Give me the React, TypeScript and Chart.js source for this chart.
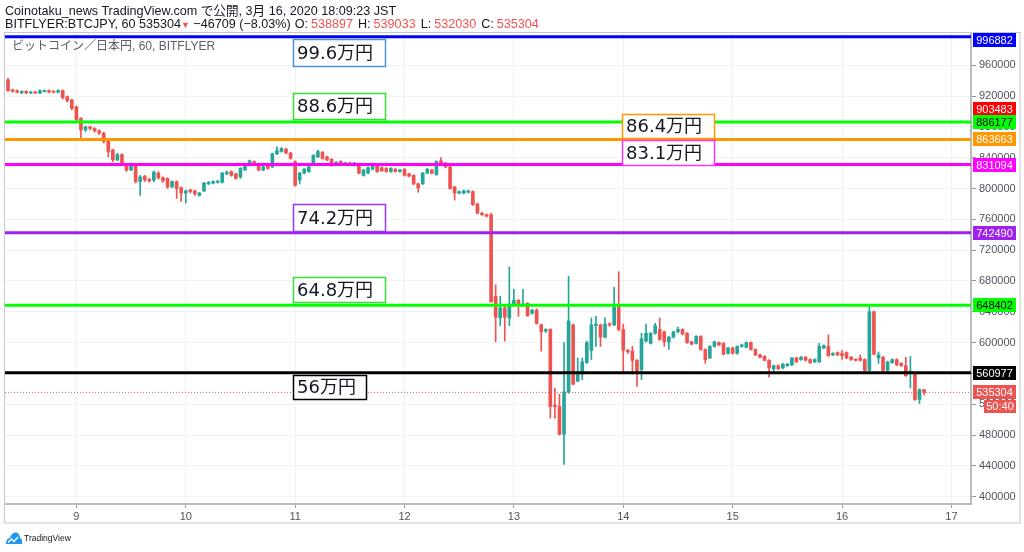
import React, { useEffect, useRef } from "react";
import { Chart, registerables } from "chart.js";

Chart.register(...registerables);

// first candle = Mar 8 09:00 JST, expressed in hours from Mar 9 00:00
const FIRST_HOUR = -15;
const PRICE_UNIT = 1000;

const OPEN_K = [
  941, 928, 927, 924, 926, 924, 925, 924, 926, 927,
  926, 925, 927, 919, 915, 906, 891, 876, 880, 878,
  875, 872, 861, 850, 837, 844, 830, 824, 830, 809,
  816, 812, 811, 820, 814, 813, 802, 809, 801, 794,
  798, 797, 791, 797, 806, 807, 808, 808, 819, 822,
  819, 815, 824, 830, 835, 830, 824, 829, 828, 845,
  848, 851, 846, 835, 811, 820, 822, 833, 841, 847,
  841, 838, 832, 835, 832, 833, 830, 829, 817, 820,
  825, 829, 827, 826, 822, 825, 822, 825, 819, 817,
  806, 806, 820, 824, 818, 836, 833, 828, 802, 794,
  794, 795, 796, 780, 768, 766, 766, 660, 632, 645,
  632, 649, 655, 648, 651, 638, 642, 623, 615, 617,
  519, 517, 481, 536, 623, 550, 559, 574, 590, 622,
  623, 607, 624, 623, 646, 617, 590, 589, 577, 565,
  602, 599, 612, 617, 614, 601, 607, 614, 617, 612,
  601, 599, 608, 591, 580, 595, 600, 599, 586, 593,
  586, 595, 594, 600, 591, 584, 582, 577, 566, 570,
  567, 570, 571, 580, 578, 581, 578, 575, 575, 593,
  595, 584, 587, 586, 587, 581, 578, 580, 578, 564,
  640, 580, 581, 564, 574, 578, 573, 570, 560, 560,
  526, 538.897,
];

const HIGH_K = [
  943, 929, 928, 927, 927, 926, 926, 928, 928, 928,
  927, 928, 928, 920, 916, 907, 892, 881, 881, 879,
  876, 873, 862, 851, 846, 845, 831, 833, 832, 817,
  817, 813, 823, 822, 815, 814, 810, 810, 802, 798,
  799, 798, 795, 808, 809, 810, 811, 821, 823, 823,
  820, 827, 831, 837, 836, 831, 829, 830, 846, 854,
  853, 852, 847, 836, 821, 826, 829, 844, 850, 848,
  842, 839, 835, 836, 834, 834, 834, 830, 825, 828,
  831, 830, 828, 827, 827, 826, 825, 826, 820, 818,
  807, 821, 826, 825, 836, 840, 834, 829, 803, 797,
  798, 798, 797, 781, 769, 767, 768, 675, 660, 648,
  698, 669, 656, 669, 652, 643, 644, 624, 618, 618,
  541, 533, 600, 686, 624, 580, 580, 602, 632, 634,
  624, 632, 626, 672, 692, 624, 591, 595, 578, 612,
  624, 613, 625, 632, 615, 608, 615, 620, 618, 613,
  602, 609, 609, 592, 596, 602, 601, 600, 594, 594,
  596, 598, 601, 601, 592, 585, 583, 578, 571, 571,
  573, 573, 581, 581, 582, 582, 579, 579, 599, 597,
  610, 587, 588, 590, 588, 582, 579, 584, 579, 647,
  641, 588, 582, 576, 579, 579, 574, 581, 582, 561,
  540, 539.033,
];

const LOW_K = [
  926, 925, 924, 923, 923, 923, 923, 923, 925, 924,
  924, 924, 916, 912, 902, 887, 865, 874, 876, 873,
  870, 859, 841, 835, 836, 830, 822, 823, 807, 791,
  809, 808, 809, 812, 808, 800, 801, 787, 783, 781,
  794, 791, 790, 796, 805, 806, 807, 807, 818, 816,
  812, 813, 823, 829, 830, 823, 823, 825, 827, 844,
  847, 845, 838, 803, 806, 819, 821, 832, 840, 838,
  836, 829, 831, 831, 831, 830, 829, 819, 816, 819,
  824, 821, 822, 821, 821, 821, 821, 816, 815, 805,
  795, 805, 819, 819, 817, 832, 827, 799, 785, 793,
  793, 794, 778, 767, 765, 763, 652, 601, 622, 602,
  622, 648, 634, 647, 634, 637, 624, 589, 613, 502,
  502, 480, 442, 534, 545, 549, 552, 573, 578, 595,
  595, 606, 621, 622, 615, 563, 586, 559, 543, 552,
  601, 598, 611, 603, 595, 591, 606, 613, 610, 599,
  597, 598, 590, 573, 579, 594, 596, 584, 585, 585,
  585, 594, 593, 590, 583, 580, 576, 555, 562, 565,
  566, 569, 570, 574, 577, 576, 573, 574, 574, 592,
  582, 583, 583, 578, 579, 577, 576, 576, 563, 563,
  584, 573, 563, 563, 573, 570, 569, 556, 541, 525,
  521, 532.03,
];

const CLOSE_K = [
  927, 926, 925, 926, 924, 925, 924, 927, 927, 925,
  925, 927, 918, 914, 904, 889, 876, 880, 878, 875,
  872, 861, 848, 837, 844, 831, 824, 830, 809, 815,
  811, 810, 821, 814, 810, 802, 809, 800, 794, 797,
  796, 793, 794, 807, 808, 809, 809, 820, 821, 817,
  813, 826, 830, 836, 831, 824, 828, 826, 845, 849,
  852, 846, 839, 804, 820, 825, 828, 843, 848, 839,
  837, 830, 834, 832, 833, 831, 833, 820, 824, 827,
  830, 822, 823, 822, 826, 822, 824, 817, 816, 806,
  801, 820, 825, 820, 835, 833, 828, 800, 794, 796,
  797, 797, 779, 768, 766, 764, 653, 633, 645, 633,
  650, 655, 648, 650, 635, 642, 625, 614, 617, 517,
  517, 481, 536, 628, 546, 561, 575, 600, 623, 624,
  607, 624, 623, 646, 617, 590, 588, 577, 561, 605,
  612, 612, 622, 604, 601, 607, 614, 617, 611, 600,
  598, 608, 591, 578, 595, 601, 597, 585, 593, 586,
  595, 597, 600, 591, 584, 581, 577, 567, 570, 566,
  572, 572, 580, 575, 581, 577, 574, 578, 595, 596,
  583, 586, 584, 583, 580, 578, 577, 577, 564, 640,
  585, 584, 564, 575, 578, 571, 570, 557, 563, 526,
  539, 535.304,
];

const DAY_TICKS = [0, 24, 48, 72, 96, 120, 144, 168, 192];
const DAY_LABELS = ["9", "10", "11", "12", "13", "14", "15", "16", "17"];
const PRICE_TICKS = [
  400000, 440000, 480000, 520000, 560000, 600000, 640000, 680000,
  720000, 760000, 800000, 840000, 880000, 920000, 960000,
];

const LEVEL_VALUES = [996882, 886177, 863663, 831094, 742490, 648402, 560977];
const CURRENT_PRICE = 535304;
const TAG_VALUES = [996882, 903483, 886177, 863663, 831094, 742490, 648402, 560977, 535304];
const COUNTDOWN_TEXT = "50:40";
const NOTE_TEXTS = ["99.6万円", "88.6万円", "86.4万円", "83.1万円", "74.2万円", "64.8万円", "56万円"];
const OHLC_LABELS = ["O:", "H:", "L:", "C:"];
const OHLC_VALUES = ["538897", "539033", "532030", "535304"];

// styling / layout (not data)
const UP = "#26a69a";
const DOWN = "#ef5350";
const LEVEL_COLORS = ["#0000ff", "#00ff00", "#ff9800", "#ff00ff", "#a020f0", "#00ff00", "#000000"];
const TAG_BG = ["#0000ff", "#ff0000", "#00ff00", "#ff9800", "#ff00ff", "#a020f0", "#00ff00", "#000000", "#ef5350"];
const TAG_FG = ["#fff", "#fff", "#000", "#fff", "#fff", "#fff", "#000", "#fff", "#fff"];
const NOTE_LAYOUT = [
  { h0: 47.6, h1: 67.8, top: 993400, bottom: 959000, color: "#4a90d9" },
  { h0: 47.6, h1: 67.8, top: 924100, bottom: 890400, color: "#33e033" },
  { h0: 119.7, h1: 139.8, top: 896900, bottom: 865100, color: "#ff9800" },
  { h0: 119.7, h1: 139.8, top: 863500, bottom: 831000, color: "#ff33ff" },
  { h0: 47.6, h1: 67.8, top: 780300, bottom: 745200, color: "#9933ff" },
  { h0: 47.6, h1: 67.8, top: 685500, bottom: 653000, color: "#33e033" },
  { h0: 47.6, h1: 63.5, top: 558100, bottom: 526900, color: "#000000" },
];
const X_MIN = -15.66;
const X_MAX = 196.3;
const Y_MIN = 390500;
const Y_MAX = 1001800;
const AXIS_FONT = '"Liberation Sans", Arial, sans-serif';
const HEADER_FONT = '12.6px "Liberation Sans", Arial, "Noto Sans CJK JP", sans-serif';

const overlayPlugin = {
  id: "overlay",
  afterDatasetsDraw(chart: any) {
    const { ctx } = chart;
    const xs = chart.scales.x;
    const ys = chart.scales.y;
    ctx.save();
    NOTE_LAYOUT.forEach((b, i) => {
      const x0 = Math.round(xs.getPixelForValue(b.h0)) + 0.5;
      const x1 = Math.round(xs.getPixelForValue(b.h1)) + 0.5;
      const y0 = Math.round(ys.getPixelForValue(b.top)) + 0.5;
      const y1 = Math.round(ys.getPixelForValue(b.bottom)) + 0.5;
      ctx.fillStyle = "#ffffff";
      ctx.fillRect(x0, y0, x1 - x0, y1 - y0);
      ctx.strokeStyle = b.color;
      ctx.lineWidth = 1.5;
      ctx.strokeRect(x0, y0, x1 - x0, y1 - y0);
      ctx.fillStyle = "#131722";
      ctx.font = '18px "DejaVu Sans", "Noto Sans CJK JP", sans-serif';
      ctx.textAlign = "left";
      ctx.textBaseline = "middle";
      ctx.fillText(NOTE_TEXTS[i], x0 + 3.5, (y0 + y1) / 2 + 1);
    });
    ctx.restore();
  },
  afterDraw(chart: any) {
    const { ctx, chartArea } = chart;
    const ys = chart.scales.y;
    ctx.save();
    // outer frame
    ctx.strokeStyle = "#c4c7cd";
    ctx.lineWidth = 1;
    ctx.strokeRect(chartArea.left - 0.5, chartArea.top - 0.5, 1020 - chartArea.left + 0.5, 523 - chartArea.top + 0.5);
    // price tags on right axis
    ctx.font = "11px " + AXIS_FONT;
    ctx.textAlign = "center";
    ctx.textBaseline = "middle";
    const tx0 = chartArea.right + 2;
    const tx1 = 1016;
    TAG_VALUES.forEach((v, i) => {
      const yc = ys.getPixelForValue(v);
      let top = Math.round(yc - 7);
      if (top < chartArea.top) top = Math.round(chartArea.top);
      ctx.fillStyle = TAG_BG[i];
      ctx.fillRect(tx0, top, tx1 - tx0, 14);
      ctx.fillStyle = TAG_FG[i];
      ctx.fillText(String(v), (tx0 + tx1) / 2, top + 7.5);
    });
    const yc = ys.getPixelForValue(CURRENT_PRICE);
    const top = Math.round(yc - 7) + 15;
    ctx.fillStyle = DOWN;
    ctx.fillRect(984, top, tx1 - 984, 13);
    ctx.fillStyle = "#fff";
    ctx.fillText(COUNTDOWN_TEXT, (984 + tx1) / 2, top + 7);
    ctx.restore();
  },
};

export default function App() {
  const ref = useRef<HTMLCanvasElement | null>(null);

  useEffect(() => {
    if (!ref.current) return;
    const n = OPEN_K.length;
    const colors: string[] = [];
    const bodies: any[] = [];
    const wicks: any[] = [];
    for (let i = 0; i < n; i++) {
      const o = OPEN_K[i] * PRICE_UNIT;
      const c = CLOSE_K[i] * PRICE_UNIT;
      const x = FIRST_HOUR + i;
      colors.push(c >= o ? UP : DOWN);
      bodies.push({ x, y: [o, c] });
      wicks.push({ x, y: [LOW_K[i] * PRICE_UNIT, HIGH_K[i] * PRICE_UNIT] });
    }
    const levelSets = LEVEL_VALUES.map((v, i) => ({
      type: "line",
      data: [
        { x: X_MIN, y: v },
        { x: X_MAX, y: v },
      ],
      borderColor: LEVEL_COLORS[i],
      borderWidth: 3,
      pointRadius: 0,
      fill: false,
      order: 0,
    }));
    const chart = new Chart(ref.current, {
      type: "bar",
      data: {
        datasets: [
          ...levelSets,
          {
            type: "line",
            data: [
              { x: X_MIN, y: CURRENT_PRICE },
              { x: X_MAX, y: CURRENT_PRICE },
            ],
            borderColor: DOWN,
            borderWidth: 1,
            borderDash: [1, 2],
            pointRadius: 0,
            fill: false,
            order: 0,
          },
          {
            type: "bar",
            data: bodies,
            backgroundColor: colors,
            borderWidth: 0,
            barThickness: 3,
            minBarLength: 1,
            grouped: false,
            order: 1,
          },
          {
            type: "bar",
            data: wicks,
            backgroundColor: colors,
            borderWidth: 0,
            barThickness: 1,
            grouped: false,
            order: 2,
          },
        ] as any,
      },
      options: {
        responsive: false,
        animation: false,
        events: [],
        layout: { padding: { left: 5, top: 33, right: 4, bottom: 29 } },
        plugins: {
          legend: { display: false },
          tooltip: { enabled: false },
          title: { display: false },
        },
        scales: {
          x: {
            type: "linear",
            min: X_MIN,
            max: X_MAX,
            offset: false,
            grid: {
              color: "#eef1f5",
              offset: false,
              drawTicks: true,
              tickLength: 4,
              tickColor: "#9598a1",
            },
            border: { color: "#b8bbc2", width: 2 },
            ticks: {
              font: { family: AXIS_FONT, size: 11 },
              color: "#50535e",
              padding: 2,
              maxRotation: 0,
              autoSkip: false,
              callback: (v: any) => {
                const k = DAY_TICKS.indexOf(Number(v));
                return k >= 0 ? DAY_LABELS[k] : "";
              },
            },
            afterBuildTicks: (s: any) => {
              s.ticks = DAY_TICKS.map((v) => ({ value: v }));
            },
            afterFit: (s: any) => {
              s.height = 19;
            },
          },
          y: {
            type: "linear",
            position: "right",
            min: Y_MIN,
            max: Y_MAX,
            grid: {
              color: "#eef1f5",
              drawTicks: true,
              tickLength: 5,
              tickColor: "#9598a1",
            },
            border: { color: "#b8bbc2", width: 2 },
            ticks: {
              font: { family: AXIS_FONT, size: 11 },
              color: "#50535e",
              padding: 3,
              callback: (v: any) => String(v),
            },
            afterBuildTicks: (s: any) => {
              s.ticks = PRICE_TICKS.map((v) => ({ value: v }));
            },
            afterFit: (s: any) => {
              s.width = 49;
            },
          },
        },
      } as any,
      plugins: [overlayPlugin],
    });
    return () => chart.destroy();
  }, []);

  const red = { color: "#ef5350" };
  return (
    <div
      style={{
        position: "fixed",
        left: 0,
        top: 0,
        width: 1024,
        height: 552,
        background: "#ffffff",
        overflow: "hidden",
      }}
    >
      <canvas ref={ref} width={1024} height={552} style={{ position: "absolute", left: 0, top: 0 }} />
      <div
        style={{
          position: "absolute",
          left: 5,
          top: 4,
          font: HEADER_FONT,
          lineHeight: "14px",
          color: "#131722",
          whiteSpace: "nowrap",
        }}
      >
        Coinotaku_news TradingView.com で公開, 3月 16, 2020 18:09:23 JST
      </div>
      <div
        style={{
          position: "absolute",
          left: 5,
          top: 17,
          font: HEADER_FONT,
          lineHeight: "14px",
          color: "#131722",
          whiteSpace: "nowrap",
        }}
      >
        BITFLYER:BTCJPY, 60 535304<span style={{ ...red, fontSize: "9px" }}>▼</span> −46709 (−8.03%)
        {OHLC_LABELS.map((lab, i) => (
          <span key={lab} style={{ marginLeft: i === 0 ? 4 : 5 }}>
            {lab}
            <span style={{ ...red, marginLeft: 3 }}>{OHLC_VALUES[i]}</span>
          </span>
        ))}
      </div>
      <div
        style={{
          position: "absolute",
          left: 12,
          top: 39,
          font: '12px "Liberation Sans", Arial, "Noto Sans CJK JP", sans-serif',
          lineHeight: "14px",
          color: "#5d606b",
          whiteSpace: "nowrap",
        }}
      >
        ビットコイン／日本円, 60, BITFLYER
      </div>
      <svg width="18" height="15" viewBox="0 0 18 15" style={{ position: "absolute", left: 5, top: 531 }}>
        <path d="M1 13 C1 9 3 7 5 7 C6 3.5 8 1.5 10.5 1.5 C13.5 1.5 15 4 15 7 C17 7.5 17.5 10 17 13 Z" fill="#2196f3" />
        <path d="M3 11.5 L6.5 8 L9 10.5 L13 6" stroke="#ffffff" strokeWidth="1.4" fill="none" />
      </svg>
      <div
        style={{
          position: "absolute",
          left: 24,
          top: 533,
          font: '8.5px "Liberation Sans", Arial, sans-serif',
          lineHeight: "10px",
          color: "#131722",
          whiteSpace: "nowrap",
        }}
      >
        TradingView
      </div>
    </div>
  );
}
